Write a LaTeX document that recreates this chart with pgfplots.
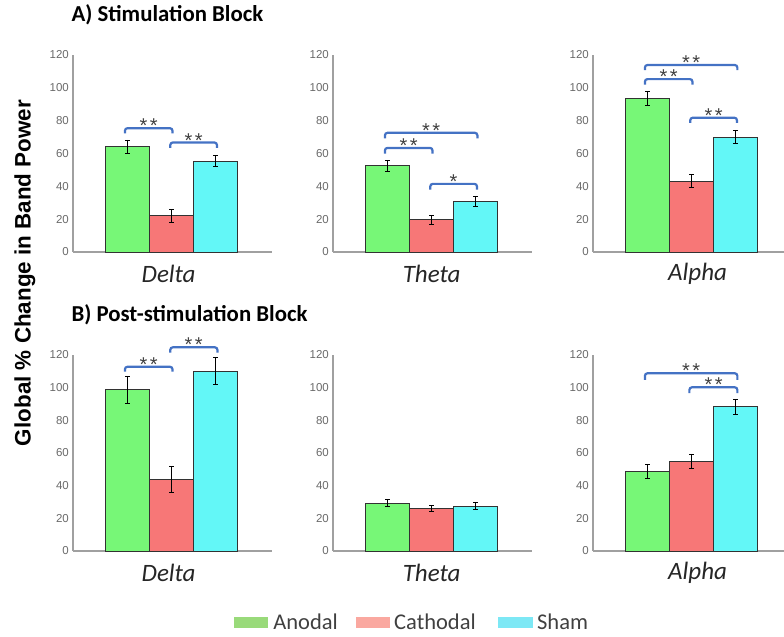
\documentclass[border=0pt]{standalone}
\usepackage{fontspec}
\setmainfont{Carlito}
\newfontfamily\arialfont{Liberation Sans}
\usepackage{pgfplots}
\pgfplotsset{compat=1.18}
\definecolor{barG}{RGB}{119,247,119}
\definecolor{barR}{RGB}{247,119,119}
\definecolor{barC}{RGB}{99,247,247}
\definecolor{legG}{RGB}{153,218,122}
\definecolor{legR}{RGB}{250,168,160}
\definecolor{legC}{RGB}{125,232,245}
\definecolor{brk}{RGB}{68,114,196}
\definecolor{axisgray}{RGB}{160,160,160}
\definecolor{tickgray}{RGB}{105,105,105}
\definecolor{bardraw}{RGB}{50,50,50}
\definecolor{legtext}{RGB}{64,64,64}
\pgfplotsset{
 panel/.style={
  scale only axis, width=199bp, height=197bp,
  xmin=-2.24, xmax=2.28, ymin=0, ymax=120,
  axis x line=bottom, axis y line=left,
  axis line style={-, draw=axisgray, line width=1.4bp},
  ytick={0,20,...,120}, xtick={0},
  major tick length=0pt,
  /pgf/number format/assume math mode=true,
  yticklabel style={font=\arialfont\fontsize{11.5bp}{12bp}\selectfont, text=tickgray, inner sep=0pt, xshift=-4bp},
  xticklabel style={font=\itshape\fontsize{25bp}{28bp}\selectfont, text=black!85, anchor=center, yshift=-22bp},
  clip=false,
 },
 bar/.style={ybar, bar shift=0pt, bar width=1, draw=bardraw, line width=0.8bp, forget plot,
  error bars/y dir=both, error bars/y explicit,
  error bars/error bar style={black, line width=0.7bp},
  error bars/error mark options={rotate=90, black, mark size=2.2bp, line width=0.7bp}},
}
\tikzset{
 bracketline/.style={draw=brk, line width=2.2bp, rounded corners=2.5bp},
 stars/.style={font=\arialfont\fontsize{20bp}{20bp}\selectfont, text=black!75, anchor=base, inner sep=0pt, yshift=-4.5bp},
}
% x1, x2, ytop, ytip, xmid, label
\newcommand{\brk}[6]{%
 \draw[bracketline] (axis cs:#1,#4) -- (axis cs:#1,#3) -- (axis cs:#2,#3) -- (axis cs:#2,#4);
 \node[stars] at (axis cs:#5,#3) {#6};}
\newcommand{\st}{*\hspace{2.5bp}*}
\newcommand{\gap}[1]{\rule{#1}{0pt}}
\begin{document}
\begin{tikzpicture}
\useasboundingbox (0bp,0bp) rectangle (784bp,-637bp);
\node[anchor=west, font=\bfseries\fontsize{22.8bp}{26bp}\selectfont] at (68bp,-15bp) {A) Stimulation Block};
\node[anchor=west, font=\bfseries\fontsize{22.8bp}{26bp}\selectfont] at (68bp,-315bp) {B) Post-stimulation Block};
\node[rotate=90, font=\arialfont\bfseries\fontsize{22.4bp}{26bp}\selectfont] at (25bp,-273bp) {Global \% Change in Band Power};

% ---- A: Delta
\begin{axis}[panel, at={(73bp,-252bp)}, anchor=south west, xticklabels={Delta}, xticklabel style={xshift=-3bp}]
\addplot[bar, fill=barG] coordinates {(-1,64.3) +- (0,4.0)};
\addplot[bar, fill=barR] coordinates {(0,22.0) +- (0,3.8)};
\addplot[bar, fill=barC] coordinates {(1,55.3) +- (0,3.4)};
\brk{-1.06}{0.02}{75.4}{72.2}{-0.52}{\st}
\brk{-0.03}{1.03}{66.7}{63.4}{0.50}{\st}
\end{axis}
% ---- A: Theta
\begin{axis}[panel, at={(333bp,-252bp)}, anchor=south west, xticklabels={Theta}]
\addplot[bar, fill=barG] coordinates {(-1,52.5) +- (0,3.1)};
\addplot[bar, fill=barR] coordinates {(0,19.8) +- (0,2.7)};
\addplot[bar, fill=barC] coordinates {(1,30.9) +- (0,3.2)};
\brk{-1.06}{1.04}{72.6}{69.2}{-0.01}{\st}
\brk{-1.06}{0.02}{63.4}{60.0}{-0.52}{\st}
\brk{-0.03}{1.03}{41.5}{38.0}{0.50}{*}
\end{axis}
% ---- A: Alpha
\begin{axis}[panel, width=191bp, xmax=2.10, at={(593bp,-252bp)}, anchor=south west, xticklabels={Alpha}, xticklabel style={xshift=6bp}]
\addplot[bar, fill=barG] coordinates {(-1,93.4) +- (0,4.2)};
\addplot[bar, fill=barR] coordinates {(0,43.3) +- (0,4.1)};
\addplot[bar, fill=barC] coordinates {(1,70.1) +- (0,4.1)};
\brk{-1.06}{1.04}{113.9}{110.8}{-0.01}{\st}
\brk{-1.06}{0.02}{105.3}{102.0}{-0.52}{\st}
\brk{-0.03}{1.03}{81.8}{78.6}{0.50}{\st}
\end{axis}

% ---- B: Delta
\begin{axis}[panel, height=196bp, at={(73bp,-551bp)}, anchor=south west, xticklabels={Delta}, xticklabel style={xshift=-3bp}]
\addplot[bar, fill=barG] coordinates {(-1,98.9) +- (0,8.3)};
\addplot[bar, fill=barR] coordinates {(0,43.7) +- (0,8.0)};
\addplot[bar, fill=barC] coordinates {(1,110.2) +- (0,8.4)};
\brk{-1.06}{0.02}{112.8}{109.8}{-0.52}{\st}
\brk{-0.03}{1.04}{124.7}{121.4}{0.50}{\st}
\end{axis}
% ---- B: Theta
\begin{axis}[panel, height=196bp, at={(333bp,-551bp)}, anchor=south west, xticklabels={Theta},
  legend style={at={(0.397,-0.362)}, anchor=center, draw=none, fill=none,
   font=\fontsize{22.5bp}{25bp}\selectfont, text=legtext},
  legend columns=3, legend cell align=left]
\addplot[bar, fill=barG] coordinates {(-1,29.4) +- (0,2.2)};
\addplot[bar, fill=barR] coordinates {(0,26.0) +- (0,2.0)};
\addplot[bar, fill=barC] coordinates {(1,27.6) +- (0,2.1)};
\addlegendimage{legend image code/.code={\fill[legG] (0bp,-5bp) rectangle (33bp,5bp);}}
\addlegendentry{\gap{4bp}Anodal\gap{16bp}}
\addlegendimage{legend image code/.code={\fill[legR] (0bp,-5bp) rectangle (33bp,5bp);}}
\addlegendentry{\gap{3bp}Cathodal\gap{20bp}}
\addlegendimage{legend image code/.code={\fill[legC] (0bp,-5bp) rectangle (34bp,5bp);}}
\addlegendentry{\gap{3bp}Sham}
\end{axis}
% ---- B: Alpha
\begin{axis}[panel, height=196bp, width=191bp, xmax=2.10, at={(593bp,-551bp)}, anchor=south west, xticklabels={Alpha}, xticklabel style={xshift=6bp}]
\addplot[bar, fill=barG] coordinates {(-1,48.7) +- (0,4.4)};
\addplot[bar, fill=barR] coordinates {(0,55.0) +- (0,4.4)};
\addplot[bar, fill=barC] coordinates {(1,88.3) +- (0,4.4)};
\brk{-1.06}{1.04}{108.8}{104.8}{-0.01}{\st}
\brk{-0.05}{1.04}{100.2}{96.6}{0.50}{\st}
\end{axis}
\end{tikzpicture}
\end{document}
